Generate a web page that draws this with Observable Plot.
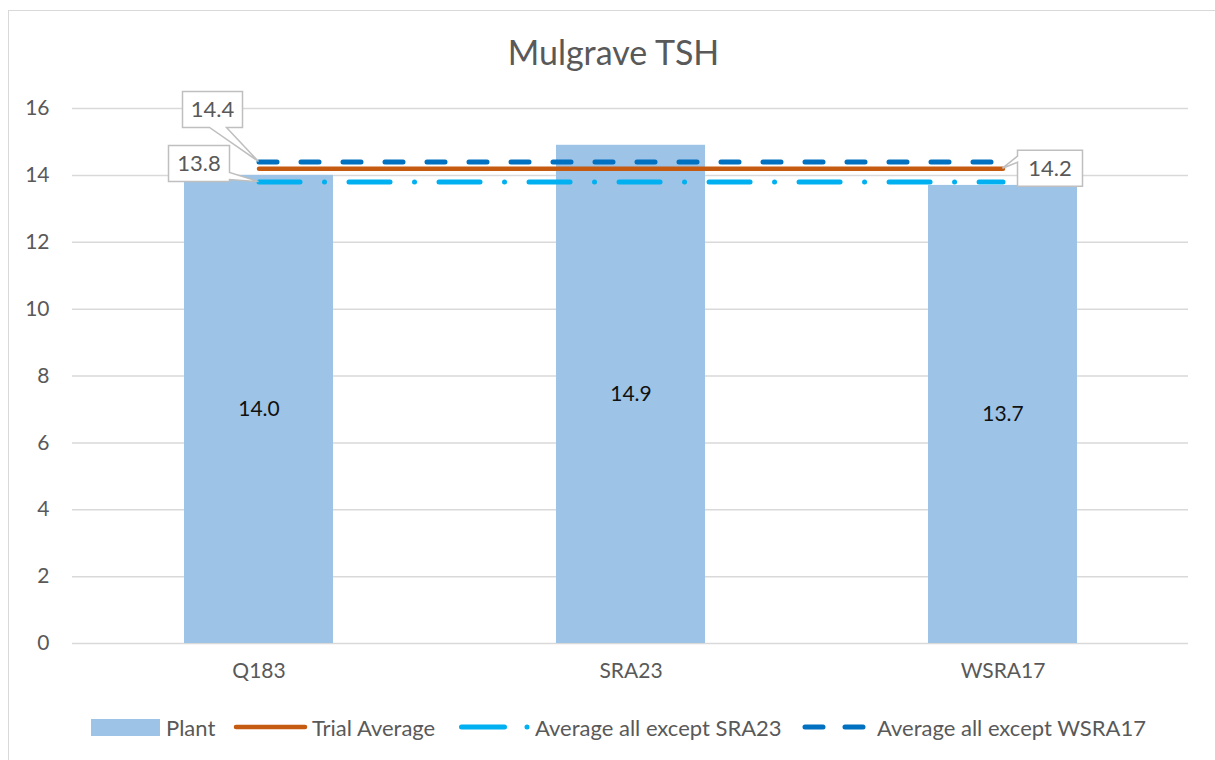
<!DOCTYPE html>
<html><head><meta charset="utf-8">
<script src="https://cdn.jsdelivr.net/npm/d3@7"></script>
<script src="https://cdn.jsdelivr.net/npm/@observablehq/plot@0.6"></script>
<style>
body{margin:0;background:#fff;font-family:Lato,"Open Sans",sans-serif;}
#wrap{position:relative;width:1215px;height:760px;overflow:hidden;background:#fff;}
#frame{position:absolute;left:8px;top:10px;width:1230px;height:770px;border:1.5px solid #d9d9d9;box-sizing:border-box;}
#title{position:absolute;top:31px;left:6px;width:1215px;text-align:center;font-size:34px;color:#595959;}
#chart{position:absolute;left:0;top:0;}
#legend{position:absolute;top:714px;left:0;width:1215px;height:26px;font-size:22px;color:#595959;white-space:nowrap;}
#legend .item{position:absolute;top:0;display:flex;align-items:center;height:26px;}
#legend svg{display:block;}
</style></head>
<body>
<div id="wrap">
  <div id="frame"></div>
  <div id="title">Mulgrave TSH</div>
  <div id="chart"></div>
  <div id="legend"></div>
</div>
<script>
// ---- data ----
const categories = ["Q183", "SRA23", "WSRA17"];
const plantValues = [14.0, 14.9, 13.7];
const trialAverage = 14.2;
const avgExceptSRA23 = 13.8;
const avgExceptWSRA17 = 14.4;
const yTicks = [0, 2, 4, 6, 8, 10, 12, 14, 16];
const seriesNames = ["Plant", "Trial Average", "Average all except SRA23", "Average all except WSRA17"];

// ---- styles ----
const barColor = "#9DC3E6";
const trialColor = "#C55A11";
const sraColor = "#00B0F0";
const wsraColor = "#0070C0";
const textColor = "#595959";
const gridColor = "#d9d9d9";

const bars = categories.map((c, i) => ({category: c, value: plantValues[i]}));
const lineRows = (v) => categories.map(c => ({category: c, value: v}));

const chart = Plot.plot({
  width: 1215,
  height: 700,
  marginTop: 108,
  marginBottom: 57,
  marginLeft: 72,
  marginRight: 27,
  style: {fontFamily: "Lato, 'Open Sans', sans-serif", fontSize: "21px", background: "transparent"},
  x: {domain: categories, paddingInner: 0.6, paddingOuter: 0.3, label: null},
  y: {domain: [0, 16], ticks: yTicks, label: null},
  marks: [
    Plot.gridY(yTicks, {stroke: gridColor, strokeOpacity: 1, strokeWidth: 1.5}),
    Plot.barY(bars, {x: "category", y: "value", fill: barColor}),
    Plot.text(bars, {x: "category", y: d => d.value / 2, text: d => d.value.toFixed(1), fill: "#111", fontSize: 21}),
    Plot.lineY(lineRows(avgExceptWSRA17), {x: "category", y: "value", stroke: wsraColor, strokeWidth: 5, strokeDasharray: "18 24", strokeLinecap: "round"}),
    Plot.lineY(lineRows(trialAverage), {x: "category", y: "value", stroke: trialColor, strokeWidth: 4.5, strokeLinecap: "round"}),
    Plot.lineY(lineRows(avgExceptSRA23), {x: "category", y: "value", stroke: sraColor, strokeWidth: 5, strokeDasharray: "41 24.5 0.01 24.5", strokeLinecap: "round"}),
    Plot.axisY(yTicks, {tickSize: 0, tickPadding: 23, color: textColor, fontSize: 21, label: null}),
    Plot.axisX({tickSize: 0, tickPadding: 20, color: textColor, fontSize: 21, label: null})
  ]
});
document.getElementById("chart").appendChild(chart);

// ---- callouts, anchored through the chart's scales ----
const xs = chart.scale("x"), ys = chart.scale("y");
const cx = c => xs.apply(c) + xs.bandwidth / 2;
const svg = d3.select(chart);
const callouts = [
  {category: "Q183", value: avgExceptWSRA17, bx: -76, by: -70, w: 60, h: 36, side: "bottom", w1: 33, w2: 16},
  {category: "Q183", value: avgExceptSRA23, bx: -90, by: -36, w: 61, h: 36, side: "right", w1: 27, w2: 34},
  {category: "WSRA17", value: trialAverage, bx: 15, by: -18, w: 65, h: 36, side: "left", w1: 6, w2: 12}
];
const g = svg.append("g");
callouts.forEach(c => {
  const px = cx(c.category), py = ys.apply(c.value);
  const x0 = px + c.bx, y0 = py + c.by, x1 = x0 + c.w, y1 = y0 + c.h;
  let d;
  if (c.side === "bottom") {
    d = `M${x0},${y0}H${x1}V${y1}H${x1 - c.w2}L${px},${py}L${x1 - c.w1},${y1}H${x0}Z`;
  } else if (c.side === "right") {
    d = `M${x0},${y0}H${x1}V${y0 + c.w1}L${px},${py}L${x1},${y0 + c.w2}V${y1}H${x0}Z`;
  } else {
    d = `M${x0},${y0}H${x1}V${y1}H${x0}V${y0 + c.w2}L${px},${py}L${x0},${y0 + c.w1}Z`;
  }
  g.append("path").attr("d", d).attr("fill", "#fff").attr("stroke", "#bfbfbf").attr("stroke-width", 1.5);
  g.append("text").attr("x", (x0 + x1) / 2).attr("y", (y0 + y1) / 2).attr("dy", "0.35em")
    .attr("text-anchor", "middle").attr("fill", textColor).attr("font-size", 22)
    .text(c.value.toFixed(1));
});

// ---- legend ----
const legend = d3.select("#legend");
const item = (left) => legend.append("div").attr("class", "item").style("left", left + "px");
const sw = (it, width, draw) => { const s = it.append("svg").attr("width", width).attr("height", 20); draw(s); };

const it0 = item(91);
sw(it0, 69, s => s.append("rect").attr("x", 0).attr("y", 2).attr("width", 69).attr("height", 17).attr("fill", barColor));
it0.append("span").style("margin-left", "6px").text(seriesNames[0]);

const it1 = item(233);
sw(it1, 75, s => s.append("line").attr("x1", 3).attr("x2", 72).attr("y1", 10).attr("y2", 10)
  .attr("stroke", trialColor).attr("stroke-width", 4.5).attr("stroke-linecap", "round"));
it1.append("span").style("margin-left", "4px").text(seriesNames[1]);

const it2 = item(457);
sw(it2, 74, s => s.append("line").attr("x1", 4.5).attr("x2", 72).attr("y1", 10).attr("y2", 10)
  .attr("stroke", sraColor).attr("stroke-width", 5).attr("stroke-linecap", "round").attr("stroke-dasharray", "43 22.5 0.01 40"));
it2.append("span").style("margin-left", "4px").text(seriesNames[2]);

const it3 = item(800);
sw(it3, 72, s => s.append("line").attr("x1", 5).attr("x2", 67).attr("y1", 10).attr("y2", 10)
  .attr("stroke", wsraColor).attr("stroke-width", 5).attr("stroke-linecap", "round").attr("stroke-dasharray", "18 22"));
it3.append("span").style("margin-left", "5px").text(seriesNames[3]);
</script>
</body></html>
